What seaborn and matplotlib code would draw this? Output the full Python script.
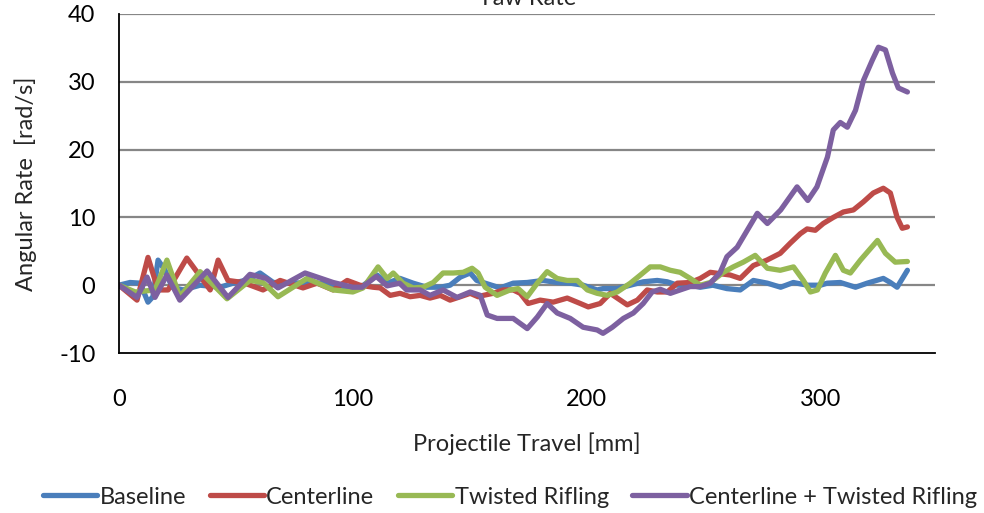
import matplotlib
matplotlib.use("Agg")
import matplotlib.pyplot as plt
import seaborn as sns
import pandas as pd

# Yaw-rate traces along the projectile travel
baseline_x = [0, 4.7, 9, 12.4, 14.5, 16.7, 19.7, 22.7, 27.4, 34.7, 43.2, 48.8, 55, 60.3, 66,
              80.4, 89, 97.6, 103, 110.4, 114.7, 120.2, 125.8, 131.6, 137.4, 141.6, 146, 150.2,
              153, 156.6, 163, 168.6, 174.6, 181.4, 187.4, 193, 198.5, 204.5, 207, 213, 218.7,
              224.2, 230.2, 234.5, 238.8, 244.3, 248.6, 254, 260, 265.7, 271.3, 277.3, 283,
              288.4, 294.4, 300, 302.9, 308.5, 315, 320, 326.9, 329.9, 332.8, 337.2]
baseline_y = [0, 0.4, 0.3, -2.5, -1.7, 3.7, 2.2, -0.3, -0.7, 0, -0.3, 0.3, 0.8, 1.8, 0.4,
              0.3, 0.3, -0.3, -0.4, 1.5, 0.3, 1.0, 0.3, -0.3, -0.3, 0, 1.2, 1.8,
              0.7, 0.3, -0.4, 0.3, 0.4, 0.7, 0.4, 0.3, 0, -0.7, -0.5, -0.5, 0,
              0.5, 0.7, 0.5, 0, 0, -0.3, 0, -0.5, -0.7, 0.7, 0.3, -0.3,
              0.4, 0, 0, 0.3, 0.4, -0.3, 0.3, 1.0, 0.4, -0.3, 2.2]

centerline_x = [0, 7.7, 12.4, 16.7, 21, 29, 39, 42.4, 46.6, 53, 61.6, 68.9, 78.7, 84.7, 91.6,
                97.6, 103, 108.7, 111.7, 116, 120.2, 124.5, 128.8, 133, 137.4, 141.6, 146,
                150.2, 153.6, 155.8, 160, 164.3, 168.6, 171.6, 175, 180.1, 185.7, 191.7, 197.3,
                200.7, 205.8, 210.1, 214.4, 217.4, 221.7, 225.9, 230.2, 234.5, 238.8, 244.4,
                248.6, 252.9, 257.1, 261.4, 265.7, 271.3, 277.1, 282.8, 287.1, 291.4, 294.3,
                297.8, 301.2, 305.5, 309.8, 314.1, 318.4, 322.6, 326.9, 329.9, 332.8, 335, 337.2]
centerline_y = [0, -2.2, 4.1, -0.7, -0.7, 4.0, -0.7, 3.7, 0.7, 0.4, -0.7, 0.7, -0.4, 0.3, -0.7,
                0.7, 0, -0.3, -0.4, -1.5, -1.2, -1.7, -1.5, -1.9, -1.5, -2.2, -1.7,
                -1.2, -1.7, -1.5, -1.2, -0.7, -0.7, -1.2, -2.7, -2.2, -2.5, -1.9, -2.7,
                -3.2, -2.7, -1.2, -2.2, -2.9, -2.2, -0.7, -1.0, -1.0, 0.3, 0.4,
                1.0, 1.9, 1.7, 1.5, 1.0, 2.9, 3.7, 4.7, 6.2, 7.6, 8.3,
                8.1, 9.1, 10.0, 10.8, 11.1, 12.3, 13.6, 14.3, 13.6, 10.0, 8.4, 8.6]

twisted_x = [0, 7, 15.4, 20.5, 26, 34.7, 39, 46.2, 56, 61.6, 68, 80.4, 91.6, 100, 104.4,
             110.8, 114.7, 117.3, 121.5, 125.8, 130, 134.4, 138.6, 142.9, 147.2, 151, 153.6,
             156.6, 161.7, 167.3, 170.7, 174.6, 178.9, 183.1, 187.4, 191.7, 196, 200.3, 204.5,
             208.8, 213.1, 218.7, 223, 227.2, 231.5, 235.8, 240, 244.3, 248.6, 252.9, 258.5,
             262.7, 267, 272.1, 277.3, 282.8, 288.5, 292.7, 295.7, 298.7, 302.1, 306.4, 309.8,
             312.8, 317.1, 324.4, 327.8, 332, 337.2]
twisted_y = [0, -1.0, -0.7, 3.7, -1.7, 2.0, 0.5, -2.0, 0.7, 0.4, -1.7, 1.0, -0.7, -1.0, -0.4,
             2.7, 1.0, 1.8, 0.3, -0.4, -0.3, 0.4, 1.8, 1.8, 1.9, 2.5, 1.8,
             -0.3, -1.5, -0.7, -0.5, -1.7, 0.3, 2.0, 1.0, 0.7, 0.7, -0.7, -1.2,
             -1.5, -1.0, 0.3, 1.5, 2.7, 2.7, 2.2, 1.9, 1.0, 0, 0.4, 1.9,
             2.7, 3.4, 4.4, 2.5, 2.2, 2.7, 0.7, -1.0, -0.7, 1.8, 4.4, 2.2,
             1.8, 3.7, 6.6, 4.7, 3.4, 3.5]

combined_x = [0, 7.7, 12, 15.4, 20.5, 26, 37.7, 46.6, 56, 63, 68, 79.6, 91.6, 100, 104,
              110, 114.7, 120, 123, 128.8, 133, 138.6, 144.6, 150.2, 154.5, 157.5, 161.7,
              168.6, 174.6, 178.9, 183.1, 187.4, 193, 198.5, 204.5, 207, 211, 215.7, 220,
              224.2, 228, 231.5, 235.8, 240, 244.3, 248.6, 252.9, 257, 260, 264.4, 268.7,
              273, 277.3, 283, 290, 294.6, 298.5, 303, 305.5, 308.5, 311.5, 315, 318.4,
              322.2, 324.8, 327.8, 330.8, 333.3, 337.2]
combined_y = [0, -1.8, 1.2, -1.8, 1.5, -2.2, 2.1, -1.8, 1.6, 1.0, -0.4, 1.8, 0.4, -0.3, -0.3,
              1.3, -0.1, 0.3, -0.7, -0.7, -1.5, -0.7, -1.8, -1.0, -1.5, -4.4, -4.9,
              -4.9, -6.4, -4.7, -2.7, -4.1, -4.9, -6.2, -6.6, -7.1, -6.2, -4.9, -4.1,
              -2.7, -1.0, -0.6, -1.2, -0.7, -0.2, -0.2, 0.3, 1.8, 4.2, 5.6, 8.1,
              10.6, 9.1, 11.1, 14.5, 12.5, 14.5, 18.9, 22.9, 24.0, 23.3, 25.8, 30.2,
              33.2, 35.1, 34.7, 31.3, 29.1, 28.5]

series_names = ["Baseline", "Centerline", "Twisted Rifling", "Centerline + Twisted Rifling"]
series_colors = ["#4A7EBB", "#BE4B48", "#98B954", "#7D60A0"]

x_ticks = [0, 100, 200, 300]
y_ticks = [-10, 0, 10, 20, 30, 40]

frames = []
for name, xs, ys in zip(series_names,
                        [baseline_x, centerline_x, twisted_x, combined_x],
                        [baseline_y, centerline_y, twisted_y, combined_y]):
    frames.append(pd.DataFrame({"travel": xs, "rate": ys, "series": name}))
data = pd.concat(frames, ignore_index=True)

sns.set_theme(style="white")
plt.rcParams["font.family"] = ["Lato", "DejaVu Sans"]
FS = 17

fig = plt.figure(figsize=(9.84, 5.13), dpi=100)
ax = fig.add_axes([119 / 984, 1 - 353 / 513, (935 - 119) / 984, (353 - 14) / 513])

for y in y_ticks[1:]:
    ax.axhline(y, color="#868686", lw=1.6, zorder=0)

sns.lineplot(data=data, x="travel", y="rate", hue="series", hue_order=series_names,
             palette=series_colors, sort=False, estimator=None, lw=3.8, ax=ax,
             legend=False)
for line in ax.get_lines():
    line.set_solid_capstyle("round")
    line.set_solid_joinstyle("round")

ax.set_xlim(0, 349)
ax.set_ylim(-10, 40)
ax.set_xticks(x_ticks)
ax.set_yticks(y_ticks)
ax.set_xticklabels([str(v) for v in x_ticks])
ax.set_yticklabels([str(v) for v in y_ticks])

for side in ["top", "right"]:
    ax.spines[side].set_visible(False)
for side in ["left", "bottom"]:
    ax.spines[side].set_color("black")
    ax.spines[side].set_linewidth(1.3)

ax.tick_params(axis="both", which="major", direction="out", length=5, width=1.3,
               color="black", labelsize=FS, labelcolor="black")
ax.tick_params(axis="x", pad=21)
ax.tick_params(axis="y", pad=12)

ax.set_xlabel("Projectile Travel [mm]", fontsize=FS, labelpad=16)
ax.set_ylabel("Angular Rate  [rad/s]", fontsize=FS, labelpad=16)

fig.text(527 / 984, 1 - 5 / 513, "Yaw Rate", ha="center", va="baseline", fontsize=FS)

handles = [plt.Line2D([], [], color=c, lw=3.8, solid_capstyle="round") for c in series_colors]
fig.legend(handles, series_names, loc="center", bbox_to_anchor=(510 / 984, 1 - 497 / 513),
           ncol=4, frameon=False, fontsize=FS, handlelength=2.3, handletextpad=0.1,
           columnspacing=1.0, borderpad=0.2)

fig.savefig("out.png", dpi=100)
